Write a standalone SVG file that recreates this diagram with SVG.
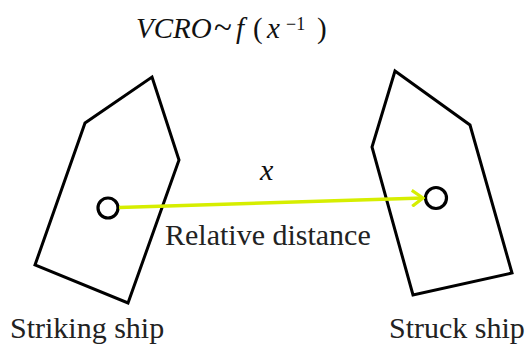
<svg xmlns="http://www.w3.org/2000/svg" width="530" height="352" viewBox="0 0 530 352">
<defs>
<marker id="arr" markerWidth="14" markerHeight="18" refX="12" refY="9" orient="auto" markerUnits="userSpaceOnUse">
<path d="M1,1 L12,9 L1,17" fill="none" stroke="#d6ee00" stroke-width="3.2"/>
</marker>
</defs>
<rect width="530" height="352" fill="#fff"/>
<g id="title" fill="#111" font-family="Liberation Serif, serif" font-size="29">
<text x="136" y="38" font-style="italic">VCRO</text>
<text x="214" y="38" font-size="33">~</text>
<text x="236" y="38" font-style="italic">f</text>
<text x="253" y="38">(</text>
<text x="267" y="38" font-style="italic">x</text>
<text x="286" y="30" font-size="18">−1</text>
<text x="317" y="38">)</text>
</g>
<g id="striking-ship">
<polygon points="152,77 179,160 128,303 35,265 85,123" fill="none" stroke="#000" stroke-width="3"/>
<text x="10" y="338" font-family="Liberation Serif, serif" font-size="30" fill="#222">Striking ship</text>
<circle cx="108" cy="208" r="10" fill="#fff" stroke="#000" stroke-width="3.2"/>
</g>
<g id="struck-ship">
<polygon points="395,71 470,125 512,273 413,295 372,147" fill="none" stroke="#000" stroke-width="3"/>
<text x="389" y="338" font-family="Liberation Serif, serif" font-size="30" fill="#222">Struck ship</text>
<circle cx="436" cy="198" r="10.5" fill="#fff" stroke="#000" stroke-width="3.2"/>
</g>
<g id="connectors" font-family="Liberation Serif, serif" font-size="30">
<line x1="119" y1="207.5" x2="423" y2="198" stroke="#d6ee00" stroke-width="3.5" marker-end="url(#arr)"/>
<text x="260" y="180" font-style="italic" fill="#111">x</text>
<text x="165" y="245" fill="#222">Relative distance</text>
</g>
</svg>
